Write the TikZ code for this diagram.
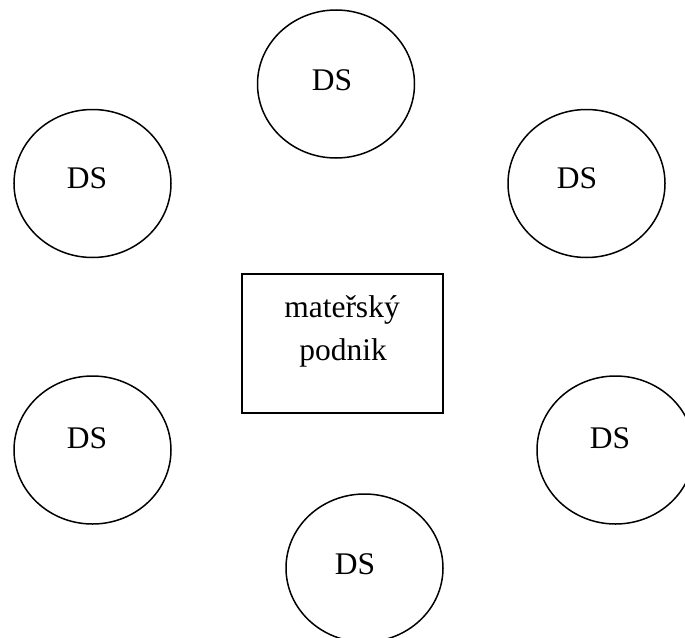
\documentclass[tikz,border=0pt]{standalone}
\usepackage{fontspec}
\setmainfont{Liberation Serif}
\usetikzlibrary{shapes.geometric}
\begin{document}
\begin{tikzpicture}[x=1pt,y=-1pt,
  unit/.style={draw, line width=1.5pt, ellipse, minimum width=157pt, minimum height=148pt, inner sep=0pt},
  parent/.style={draw, line width=1.6pt, rectangle, minimum width=201pt, minimum height=139pt, inner sep=0pt},
  lbl/.style={anchor=base, inner sep=0pt, font=\fontsize{31.5}{38}\selectfont}]
\useasboundingbox (0,0) rectangle (685,637);
\clip (0,0) rectangle (685,637);

% daughter companies around the parent
\node[unit] (dsTop) at (336,84) {};
\node[unit] (dsTL) at (92.5,183.5) {};
\node[unit] (dsTR) at (586.5,183.5) {};
\node[unit] (dsBL) at (92.5,450) {};
\node[unit] (dsBR) at (615.5,450) {};
\node[unit] (dsBot) at (364.5,568) {};

\node[lbl] (tTop) at (332,90) {DS};
\node[lbl] (tTL) at (87,188) {DS};
\node[lbl] (tTR) at (577,188) {DS};
\node[lbl] (tBL) at (87,448) {DS};
\node[lbl] (tBR) at (610,448) {DS};
\node[lbl] (tBot) at (355,574) {DS};

% parent company
\node[parent] (parent) at (342.5,343.5) {};
\node[lbl] (pLine1) at (342,317) {mateřský};
\node[lbl] (pLine2) at (343,360) {podnik};
\end{tikzpicture}
\end{document}
